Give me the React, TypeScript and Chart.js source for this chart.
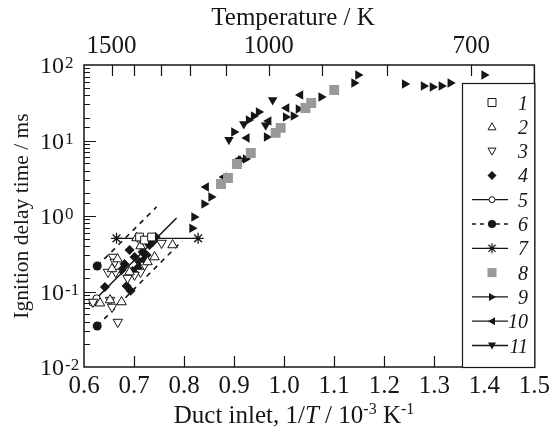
import React, { useEffect, useRef } from 'react';
import { Chart, registerables } from 'chart.js';

Chart.register(...registerables);

const FONT = '"Liberation Serif", "Times New Roman", serif';
const INK = '#161616';

// ---- axis / tick data ----
const xMin = 0.6;
const xMax = 1.5;
const yMin = 0.01;
const yMax = 100;
const yTickValues = [0.01, 0.1, 1, 10, 100];
const yTickExponents = ['-2', '-1', '0', '1', '2'];
const topTickValues = [0.655, 0.7, 0.753, 0.812, 0.883, 0.969, 1.075, 1.206, 1.374];
const topTickLabels = ['1500', '', '', '', '', '1000', '', '', '700'];
const legendLabels = ['1', '2', '3', '4', '5', '6', '7', '8', '9', '10', '11'];

// ---- series data (x = 1000/T, y = ignition delay ms) ----
const s1X = [0.711, 0.721, 0.735];
const s1Y = [0.527, 0.48, 0.527];

const s2X = [0.777, 0.741, 0.713, 0.667, 0.656, 0.675, 0.652, 0.705, 0.727, 0.691, 0.632];
const s2Y = [0.413, 0.286, 0.4, 0.269, 0.199, 0.0726, 0.077, 0.512, 0.246, 0.181, 0.07];

const s3X = [0.755, 0.658, 0.6635, 0.648, 0.652, 0.656, 0.6675, 0.618, 0.713, 0.701, 0.721, 0.687, 0.6615, 0.711];
const s3Y = [0.438, 0.286, 0.181, 0.181, 0.077, 0.0624, 0.0394, 0.0726, 0.181, 0.166, 0.224, 0.151, 0.246, 0.48];

const s4X = [0.6417, 0.675, 0.681, 0.691, 0.701, 0.711, 0.717, 0.725, 0.731, 0.737, 0.685, 0.693, 0.697, 0.707, 0.721, 0.743];
const s4Y = [0.115, 0.193, 0.231, 0.355, 0.286, 0.246, 0.333, 0.304, 0.413, 0.453, 0.118, 0.102, 0.187, 0.205, 0.269, 0.527];

const s5X = [0.617, 0.625, 0.785];
const s5Y = [0.0711, 0.0813, 0.94];

const s6UpperX = [0.6264, 0.745];
const s6UpperY = [0.218, 1.32];
const s6LowerX = [0.6264, 0.796];
const s6LowerY = [0.0349, 0.467];

const s7X = [0.665, 0.828];
const s7Y = [0.506, 0.506];

const s8X = [0.8738, 0.8877, 0.9056, 0.9333, 0.983, 0.993, 1.0425, 1.054, 1.1];
const s8Y = [2.65, 3.18, 4.89, 6.82, 12.6, 14.7, 26.9, 31.4, 46.7];

const s9X = [0.816, 0.82, 0.84, 0.854, 0.8996, 0.9135, 0.923, 0.929, 0.939, 0.949, 0.965, 1.003, 1.0187, 1.0286, 1.074, 1.1397, 1.1476, 1.2409, 1.2786, 1.2964, 1.3143, 1.332, 1.3996];
const s9Y = [0.69, 0.97, 1.44, 1.79, 12.97, 5.52, 5.69, 18.7, 21.1, 23.9, 11.1, 20.5, 21.1, 26.1, 37.7, 57.7, 73.7, 56.0, 52.7, 51.1, 52.7, 57.7, 73.7];

const s10X = [0.844, 0.8798, 0.9075, 0.9254, 0.969, 1.0048, 1.0325];
const s10Y = [2.42, 3.29, 5.5, 10.8, 18.1, 26.9, 40.1];

const s11X = [0.8897, 0.9194, 0.963, 0.977];
const s11Y = [10.2, 16.5, 15.9, 34.4];

const pts = (xs: number[], ys: number[]) => xs.map((x, i) => ({ x, y: ys[i] }));

// legend look (style only)
const legendStyles = [
  { mark: 'square', fill: '#fff', line: '' },
  { mark: 'up', fill: '#fff', line: '' },
  { mark: 'down', fill: '#fff', line: '' },
  { mark: 'diamond', fill: INK, line: '' },
  { mark: 'circle', fill: '#fff', line: 'solid' },
  { mark: 'circle', fill: INK, line: 'dash' },
  { mark: 'star', fill: '', line: 'solid' },
  { mark: 'square', fill: '#999999', line: '', noStroke: true },
  { mark: 'right', fill: INK, line: 'solid' },
  { mark: 'left', fill: INK, line: 'solid' },
  { mark: 'down', fill: INK, line: 'solid' },
];

function drawMark(ctx: CanvasRenderingContext2D, kind: string, cx: number, cy: number, size: number, fill: string, stroke: boolean) {
  const h = size / 2;
  ctx.beginPath();
  switch (kind) {
    case 'square':
      ctx.rect(cx - h, cy - h, size, size);
      break;
    case 'up':
      ctx.moveTo(cx, cy - h);
      ctx.lineTo(cx + h, cy + h * 0.75);
      ctx.lineTo(cx - h, cy + h * 0.75);
      ctx.closePath();
      break;
    case 'down':
      ctx.moveTo(cx, cy + h);
      ctx.lineTo(cx + h, cy - h * 0.75);
      ctx.lineTo(cx - h, cy - h * 0.75);
      ctx.closePath();
      break;
    case 'right':
      ctx.moveTo(cx + h, cy);
      ctx.lineTo(cx - h * 0.75, cy - h);
      ctx.lineTo(cx - h * 0.75, cy + h);
      ctx.closePath();
      break;
    case 'left':
      ctx.moveTo(cx - h, cy);
      ctx.lineTo(cx + h * 0.75, cy - h);
      ctx.lineTo(cx + h * 0.75, cy + h);
      ctx.closePath();
      break;
    case 'diamond':
      ctx.moveTo(cx, cy - h);
      ctx.lineTo(cx + h, cy);
      ctx.lineTo(cx, cy + h);
      ctx.lineTo(cx - h, cy);
      ctx.closePath();
      break;
    case 'circle':
      ctx.arc(cx, cy, h, 0, Math.PI * 2);
      break;
    case 'star':
      for (let k = 0; k < 4; k++) {
        const a = (k * Math.PI) / 4;
        ctx.moveTo(cx - Math.cos(a) * h, cy - Math.sin(a) * h);
        ctx.lineTo(cx + Math.cos(a) * h, cy + Math.sin(a) * h);
      }
      ctx.lineWidth = 1.2;
      ctx.strokeStyle = INK;
      ctx.stroke();
      return;
  }
  if (fill) {
    ctx.fillStyle = fill;
    ctx.fill();
  }
  if (stroke) {
    ctx.lineWidth = 1;
    ctx.strokeStyle = INK;
    ctx.stroke();
  }
}

function drawRich(ctx: CanvasRenderingContext2D, parts: { t: string; f: string; dy: number }[], cx: number, baseline: number) {
  let total = 0;
  for (const p of parts) {
    ctx.font = p.f;
    total += ctx.measureText(p.t).width;
  }
  let x = cx - total / 2;
  ctx.textAlign = 'left';
  ctx.textBaseline = 'alphabetic';
  for (const p of parts) {
    ctx.font = p.f;
    ctx.fillText(p.t, x, baseline + p.dy);
    x += ctx.measureText(p.t).width;
  }
}

const decorPlugin = {
  id: 'decor',
  afterDraw(chart: any) {
    const ctx: CanvasRenderingContext2D = chart.ctx;
    const { left, right, top, bottom } = chart.chartArea;
    const xs = chart.scales.x;
    const xt = chart.scales.xTop;
    const ys = chart.scales.y;
    ctx.save();
    ctx.strokeStyle = INK;
    ctx.fillStyle = INK;
    ctx.lineWidth = 1.2;
    ctx.beginPath();
    for (const t of ys.ticks) {
      const p = ys.getPixelForValue(t.value);
      if (p < top + 1 || p > bottom - 1) continue;
      const lg = Math.log10(t.value);
      const major = Math.abs(lg - Math.round(lg)) < 1e-6;
      const len = major ? 12 : 6;
      const yy = Math.round(p) + 0.5;
      ctx.moveTo(left, yy);
      ctx.lineTo(left + len, yy);
    }
    for (const t of xs.ticks) {
      const p = xs.getPixelForValue(t.value);
      if (p < left + 1 || p > right - 1) continue;
      const xx = Math.round(p) + 0.5;
      ctx.moveTo(xx, bottom);
      ctx.lineTo(xx, bottom - 11);
    }
    for (const t of xt.ticks) {
      const p = xt.getPixelForValue(t.value);
      if (p < left + 1 || p > right - 1) continue;
      const xx = Math.round(p) + 0.5;
      ctx.moveTo(xx, top);
      ctx.lineTo(xx, top + 11);
    }
    ctx.stroke();

    // frame
    ctx.lineWidth = 1.5;
    ctx.strokeRect(left, top, right - left, bottom - top);

    // y tick labels 10^n
    yTickValues.forEach((v, i) => {
      const p = ys.getPixelForValue(v);
      ctx.textAlign = 'left';
      ctx.textBaseline = 'alphabetic';
      ctx.font = `24px ${FONT}`;
      ctx.fillText('10', 40, p + 8);
      const w = ctx.measureText('10').width;
      ctx.font = `17px ${FONT}`;
      ctx.fillText(yTickExponents[i], 40 + w + 1, p + 3);
    });

    // top title
    const base = `25px ${FONT}`;
    drawRich(ctx, [{ t: 'Temperature / K', f: base, dy: 0 }], 293, 25);
    // bottom title
    drawRich(
      ctx,
      [
        { t: 'Duct inlet, 1/', f: base, dy: 0 },
        { t: 'T', f: `italic 25px ${FONT}`, dy: 0 },
        { t: ' / 10', f: base, dy: 0 },
        { t: '-3', f: `16px ${FONT}`, dy: -9 },
        { t: ' K', f: base, dy: 0 },
        { t: '-1', f: `16px ${FONT}`, dy: -9 },
      ],
      294,
      423
    );

    // legend
    const lx0 = 462;
    const lx1 = right;
    const ly0 = 83;
    ctx.fillStyle = '#fff';
    ctx.fillRect(lx0, ly0, lx1 - lx0, bottom - ly0);
    ctx.lineWidth = 1.2;
    ctx.strokeStyle = INK;
    ctx.strokeRect(lx0 + 0.5, ly0 + 0.5, lx1 - lx0, bottom - ly0);
    legendLabels.forEach((lab, i) => {
      const st: any = legendStyles[i];
      const cy = 102.5 + 24.3 * i;
      const cx = 492;
      if (st.line) {
        ctx.beginPath();
        ctx.lineWidth = 1.3;
        ctx.strokeStyle = INK;
        ctx.setLineDash(st.line === 'dash' ? [4, 4] : []);
        ctx.moveTo(472, cy);
        ctx.lineTo(508, cy);
        ctx.stroke();
        ctx.setLineDash([]);
      }
      let size = 8;
      if (st.mark === 'diamond') size = 9;
      if (st.mark === 'star') size = 10;
      if (st.mark === 'square' && st.noStroke) size = 9;
      if (st.mark === 'circle') size = st.fill === '#fff' ? 6 : 8;
      drawMark(ctx, st.mark, cx, cy, size, st.fill, !st.noStroke && st.fill !== INK);
      ctx.fillStyle = INK;
      ctx.font = `italic 20px ${FONT}`;
      ctx.textAlign = 'right';
      ctx.textBaseline = 'alphabetic';
      ctx.fillText(lab, 528, cy + 7);
    });
    ctx.restore();
  },
};

export default function App() {
  const ref = useRef<HTMLCanvasElement | null>(null);
  useEffect(() => {
    if (!ref.current) return;
    const open = { backgroundColor: '#ffffff', borderColor: INK, borderWidth: 1, showLine: false };
    const solid = { backgroundColor: INK, borderColor: INK, borderWidth: 0, showLine: false };
    const chart = new Chart(ref.current, {
      type: 'scatter',
      data: {
        datasets: [
          { label: '1', data: pts(s1X, s1Y), pointStyle: 'rect', pointRadius: 5.5, ...open },
          { label: '2', data: pts(s2X, s2Y), pointStyle: 'triangle', pointRadius: 5.5, ...open },
          { label: '3', data: pts(s3X, s3Y), pointStyle: 'triangle', pointRotation: 180, pointRadius: 5.5, ...open },
          { label: '4', data: pts(s4X, s4Y), pointStyle: 'rectRot', pointRadius: 5, ...solid },
          {
            label: '5', data: pts(s5X, s5Y), showLine: true, borderColor: INK, borderWidth: 1.5,
            pointStyle: 'circle', pointRadius: [3.5, 3.5, 0], pointBackgroundColor: '#ffffff',
            pointBorderColor: INK, pointBorderWidth: 1,
          },
          {
            label: '6', data: pts(s6UpperX, s6UpperY), showLine: true, borderColor: INK, borderWidth: 1.6,
            borderDash: [5, 5], pointStyle: 'circle', pointRadius: [4.5, 0], pointBackgroundColor: INK,
            pointBorderWidth: 0,
          },
          {
            label: '6 lower', data: pts(s6LowerX, s6LowerY), showLine: true, borderColor: INK, borderWidth: 1.6,
            borderDash: [5, 5], pointStyle: 'circle', pointRadius: [4.5, 0], pointBackgroundColor: INK,
            pointBorderWidth: 0,
          },
          {
            label: '7', data: pts(s7X, s7Y), showLine: true, borderColor: INK, borderWidth: 1.2,
            pointStyle: 'star', pointRadius: 5.5, pointBorderColor: INK, pointBorderWidth: 1.3,
          },
          { label: '8', data: pts(s8X, s8Y), pointStyle: 'rect', pointRadius: 7, backgroundColor: '#999999', borderColor: '#999999', borderWidth: 0, showLine: false },
          { label: '9', data: pts(s9X, s9Y), pointStyle: 'triangle', pointRotation: 90, pointRadius: 5.5, ...solid },
          { label: '10', data: pts(s10X, s10Y), pointStyle: 'triangle', pointRotation: -90, pointRadius: 5.5, ...solid },
          { label: '11', data: pts(s11X, s11Y), pointStyle: 'triangle', pointRotation: 180, pointRadius: 5.5, ...solid },
        ] as any,
      },
      options: {
        animation: false,
        responsive: false,
        events: [],
        layout: { padding: { left: 0, right: 16, top: 0, bottom: 0 } },
        plugins: { legend: { display: false }, tooltip: { enabled: false } },
        scales: {
          x: {
            type: 'linear', position: 'bottom', min: xMin, max: xMax,
            ticks: {
              stepSize: 0.1, autoSkip: false, maxRotation: 0, padding: 4, color: INK,
              font: { family: FONT, size: 25 },
              callback: (v: any) => Number(v).toFixed(1),
            },
            grid: { display: false, drawTicks: false },
            border: { display: false },
            afterFit: (s: any) => { s.height = 68; },
          },
          xTop: {
            type: 'linear', position: 'top', min: xMin, max: xMax,
            afterBuildTicks: (s: any) => { s.ticks = topTickValues.map((v) => ({ value: v })); },
            ticks: {
              autoSkip: false, maxRotation: 0, padding: 4, color: INK,
              font: { family: FONT, size: 25 },
              callback: (_v: any, i: number) => topTickLabels[i] ?? '',
            },
            grid: { display: false, drawTicks: false },
            border: { display: false },
            afterFit: (s: any) => { s.height = 65; },
          },
          y: {
            type: 'logarithmic', position: 'left', min: yMin, max: yMax,
            ticks: { display: false, autoSkip: false },
            grid: { display: false, drawTicks: false },
            border: { display: false },
            title: {
              display: true, text: 'Ignition delay time / ms', color: INK,
              font: { family: FONT, size: 21.5 }, padding: { top: 9, bottom: 0 },
            },
            afterFit: (s: any) => { s.width = 84; },
          },
        },
      } as any,
      plugins: [decorPlugin],
    });
    return () => chart.destroy();
  }, []);
  return (
    <div style={{ position: 'absolute', left: 0, top: 0, width: 554, height: 435, background: '#fff' }}>
      <canvas ref={ref} width={554} height={435} style={{ display: 'block', width: 554, height: 435 }} />
    </div>
  );
}
